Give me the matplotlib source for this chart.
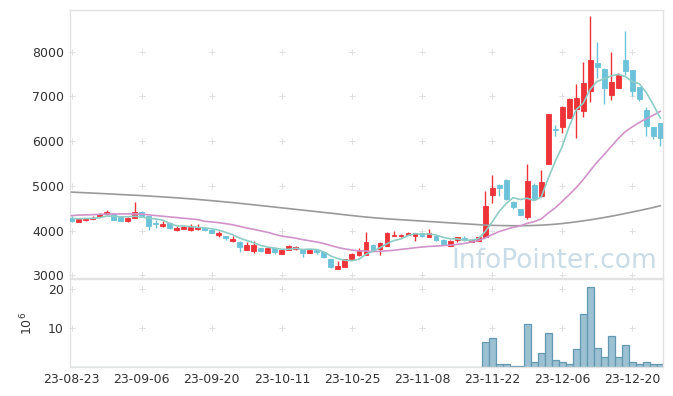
import numpy as np
import pandas as pd
import matplotlib
matplotlib.use('Agg')
import matplotlib.pyplot as plt

# x축 눈금 (거래일 인덱스 기준 10일 간격)
tick_labels = ['23-08-23', '23-09-06', '23-09-20', '23-10-11', '23-10-25',
               '23-11-08', '23-11-22', '23-12-06', '23-12-20']
tick_pos = [0, 10, 20, 30, 40, 50, 60, 70, 80]

# 일봉 데이터
opens = [4275, 4186, 4246, 4253, 4317, 4362, 4373, 4298, 4224, 4275,
         4425, 4320, 4160, 4097, 4172, 4007, 4037, 4007, 4045, 4067,
         4015, 3910, 3873, 3761, 3754, 3568, 3553, 3605, 3500, 3620,
         3478, 3568, 3590, 3575, 3500, 3560, 3515, 3359, 3135, 3180,
         3355, 3445, 3456, 3687, 3582, 3657, 3873, 3880, 3895, 3888,
         3940, 3866, 3888, 3799, 3650, 3799, 3836, 3754, 3776, 3851,
         4790, 5017, 5121, 4628, 4471, 4292, 5024, 4763, 5488, 6270,
         6318, 6520, 6707, 6677, 7125, 7753, 7604, 7036, 7193, 7813,
         7589, 7200, 6692, 6310, 6400]
highs = [4320, 4275, 4290, 4335, 4390, 4463, 4380, 4310, 4295, 4633,
         4440, 4325, 4240, 4208, 4180, 4100, 4100, 4141, 4141, 4075,
         4035, 3985, 3880, 3873, 3760, 3739, 3769, 3620, 3625, 3625,
         3575, 3670, 3645, 3580, 3580, 3580, 3530, 3365, 3329, 3374,
         3500, 3600, 3978, 3690, 3740, 3960, 3985, 3930, 3960, 3945,
         3950, 4037, 3895, 3805, 3790, 3865, 3880, 3805, 3860, 4879,
         5246, 5030, 5159, 4660, 4480, 5495, 5060, 5361, 6602, 6355,
         6789, 6970, 7275, 7776, 8800, 8209, 7641, 7985, 7514, 8463,
         7600, 7210, 6751, 6315, 6410]
lows = [4200, 4180, 4217, 4250, 4310, 4355, 4240, 4220, 4195, 4270,
        4330, 4007, 4060, 4090, 4040, 4000, 4030, 4000, 4015, 4000,
        3935, 3866, 3790, 3755, 3515, 3560, 3500, 3515, 3495, 3478,
        3470, 3565, 3570, 3418, 3495, 3470, 3390, 3170, 3130, 3175,
        3350, 3440, 3450, 3565, 3456, 3650, 3870, 3860, 3890, 3776,
        3860, 3860, 3776, 3687, 3645, 3750, 3770, 3750, 3770, 3845,
        4611, 4778, 4690, 4480, 4340, 4262, 4680, 4760, 5485, 6108,
        6191, 6515, 6079, 6542, 6864, 7402, 6819, 6916, 7185, 7469,
        7013, 6901, 6123, 6056, 5899]
closes = [4210, 4268, 4284, 4290, 4373, 4410, 4246, 4224, 4290, 4425,
          4335, 4097, 4145, 4157, 4060, 4060, 4082, 4082, 4075, 4007,
          3945, 3940, 3828, 3806, 3627, 3687, 3672, 3538, 3620, 3515,
          3568, 3664, 3642, 3493, 3560, 3515, 3403, 3180, 3202, 3374,
          3470, 3560, 3739, 3568, 3732, 3940, 3910, 3910, 3955, 3940,
          3875, 3940, 3790, 3700, 3776, 3858, 3790, 3799, 3858, 4552,
          4955, 4957, 4695, 4516, 4344, 5099, 4695, 5077, 6602, 6250,
          6766, 6938, 6968, 7305, 7813, 7664, 7193, 7320, 7469, 7566,
          7118, 6938, 6340, 6108, 6064]
# 거래량 (단위: 10^6)
volumes = [0.05, 0.04, 0.03, 0.04, 0.05, 0.06, 0.04, 0.03, 0.04, 0.08,
           0.05, 0.06, 0.04, 0.03, 0.04, 0.03, 0.03, 0.04, 0.03, 0.03,
           0.04, 0.03, 0.04, 0.03, 0.05, 0.04, 0.05, 0.03, 0.03, 0.04,
           0.03, 0.04, 0.03, 0.04, 0.03, 0.03, 0.04, 0.06, 0.05, 0.07,
           0.06, 0.08, 0.25, 0.06, 0.07, 0.09, 0.05, 0.03, 0.04, 0.04,
           0.04, 0.06, 0.04, 0.05, 0.05, 0.04, 0.03, 0.03, 0.05, 6.6,
           7.6, 1.0, 1.0, 0.5, 0.5, 11.2, 1.5, 3.6, 8.9, 1.8,
           1.3, 1.0, 4.7, 13.6, 20.6, 5.1, 2.8, 8.1, 2.8, 5.8,
           1.5, 0.8, 1.3, 0.8, 0.8]
# 장기 이동평균
ma_long = [4860, 4852, 4845, 4837, 4830, 4822, 4814, 4805, 4797, 4790,
           4782, 4772, 4762, 4752, 4742, 4731, 4720, 4708, 4695, 4682,
           4668, 4654, 4639, 4624, 4608, 4592, 4575, 4558, 4541, 4524,
           4507, 4490, 4473, 4456, 4439, 4422, 4405, 4388, 4370, 4352,
           4335, 4318, 4302, 4288, 4275, 4263, 4252, 4242, 4232, 4222,
           4212, 4202, 4192, 4182, 4172, 4162, 4152, 4142, 4132, 4122,
           4115, 4112, 4110, 4108, 4108, 4110, 4114, 4120, 4130, 4142,
           4157, 4175, 4195, 4217, 4240, 4265, 4292, 4320, 4350, 4382,
           4414, 4447, 4480, 4515, 4555]
# 차트 이전 데이터가 필요한 구간의 이동평균
ma5_head = [4270, 4265, 4270, 4275]
ma20_head = [4335, 4345, 4350, 4355, 4362, 4370, 4372, 4372, 4372, 4372,
             4368, 4350, 4335, 4320, 4305, 4290, 4275, 4260, 4245]

price_ticks = [3000, 4000, 5000, 6000, 7000, 8000]
vol_ticks = [10, 20]

df = pd.DataFrame({'open': opens, 'high': highs, 'low': lows,
                   'close': closes, 'vol': volumes, 'ma_long': ma_long})
df['ma5'] = df['close'].rolling(5).mean()
df.loc[:len(ma5_head) - 1, 'ma5'] = ma5_head
df['ma20'] = df['close'].rolling(20).mean()
df.loc[:len(ma20_head) - 1, 'ma20'] = ma20_head
x = np.arange(len(df))

red = '#ee3338'
blue = '#6cc2d9'
spine_c = '#e2e2e2'
text_c = '#333333'

fig = plt.figure(figsize=(6.73, 3.96), dpi=100)
ax = fig.add_axes([0.1033, 0.2992, 0.882, 0.6755])
axv = fig.add_axes([0.1033, 0.0720, 0.882, 0.2247], sharex=ax)

up = df['close'] >= df['open']
colors = np.where(up, red, blue)

# 캔들
ax.vlines(x, df['low'], df['high'], colors=colors, linewidth=1.0, zorder=2)
body_bottom = np.minimum(df['open'], df['close'])
body_height = np.abs(df['close'] - df['open'])
ax.bar(x, body_height, bottom=body_bottom, width=0.7, color=colors,
       edgecolor=colors, linewidth=0.6, zorder=3)

# 이동평균선
ax.plot(x, df['ma_long'], color='#9a9a9a', linewidth=1.2, zorder=4)
ax.plot(x, df['ma20'], color='#d093ca', linewidth=1.2, zorder=4)
ax.plot(x, df['ma5'], color='#8fccc5', linewidth=1.2, zorder=4)

# 거래량
axv.bar(x, df['vol'], width=1.0, color='#9bc1d2', edgecolor='#6499b1',
        linewidth=0.9, zorder=2)

ax.set_xlim(-0.3, 84.4)
ax.set_ylim(2950, 8930)
axv.set_ylim(0, 22.8)

# 격자 대신 + 표시
for t in tick_pos:
    ax.plot([t] * len(price_ticks), price_ticks, '+', color='#e0e0e0',
            ms=4.5, mew=0.7, zorder=1, clip_on=False)
    axv.plot([t] * len(vol_ticks), vol_ticks, '+', color='#e0e0e0',
             ms=4.5, mew=0.7, zorder=1, clip_on=False)

for a in (ax, axv):
    for s in a.spines.values():
        s.set_color(spine_c)
        s.set_linewidth(1.0)
    a.tick_params(length=0, labelsize=9, colors=text_c, pad=4)

ax.set_yticks(price_ticks)
axv.set_yticks(vol_ticks)
axv.set_xticks(tick_pos)
axv.set_xticklabels(tick_labels)
ax.tick_params(axis='x', labelbottom=False)
axv.set_ylabel('$10^6$', fontsize=9, color=text_c, labelpad=9)

# 워터마크
ax.text(0.977, 1 - 268 / 396, 'InfoPointer.com', transform=fig.transFigure,
        ha='right', va='baseline', fontsize=19, color='#c9dce7', zorder=0)

plt.savefig('out.png', dpi=100)
